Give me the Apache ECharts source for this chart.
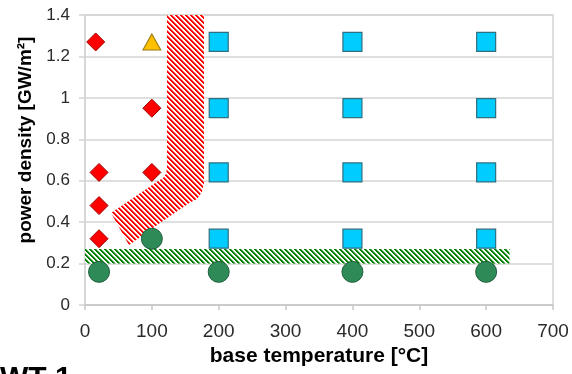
<!DOCTYPE html>
<html>
<head>
<meta charset="utf-8">
<script src="https://cdn.jsdelivr.net/npm/echarts@6/dist/echarts.min.js"></script>
<style>
html,body{margin:0;padding:0;background:#fff;}
#chart{width:572px;height:374px;}
</style>
</head>
<body>
<div id="chart"></div>
<script>
// ---- data ----
const xMin = 0, xMax = 700, xStep = 100;
const yMin = 0, yMax = 1.4, yStep = 0.2;

const diamondX = [16, 21, 21, 21, 100, 100];
const diamondY = [1.27, 0.64, 0.48, 0.32, 0.95, 0.64];

const squareX = [200, 200, 200, 200, 400, 400, 400, 400, 600, 600, 600, 600];
const squareY = [1.27, 0.95, 0.64, 0.32, 1.27, 0.95, 0.64, 0.32, 1.27, 0.95, 0.64, 0.32];

const triangleX = [100];
const triangleY = [1.27];

const circleX = [21, 100, 200, 400, 600];
const circleY = [0.16, 0.32, 0.16, 0.16, 0.16];

// green hatched band (data coordinates)
const greenBandX = [0, 635];
const greenBandY = [0.2, 0.27];

// red hatched region outline (data coordinates)
const redRegionX = [122.6, 178.0, 178.0, 175.0, 167.5, 157.1, 114.7, 65.8, 38.9, 109.2, 116.7, 121.2, 122.6];
const redRegionY = [1.4, 1.4, 0.589, 0.546, 0.512, 0.495, 0.402, 0.290, 0.444, 0.599, 0.613, 0.632, 0.661];

const xName = 'base temperature [°C]';
const yName = 'power density [GW/m²]';
const footText = 'WT-1';

// ---- hatch patterns ----
function makeHatch(rgb, size) {
  const c = document.createElement('canvas');
  c.width = size; c.height = size;
  const ctx = c.getContext('2d');
  const img = ctx.createImageData(size, size);
  for (let y = 0; y < size; y++) {
    for (let x = 0; x < size; x++) {
      const d = ((x - y) % size + size) % size;
      let a = d < 2 ? 1 : (d === 2 ? 0.55 : 0);
      const i = (y * size + x) * 4;
      img.data[i] = Math.round(rgb[0] * a + 255 * (1 - a));
      img.data[i + 1] = Math.round(rgb[1] * a + 255 * (1 - a));
      img.data[i + 2] = Math.round(rgb[2] * a + 255 * (1 - a));
      img.data[i + 3] = 255;
    }
  }
  ctx.putImageData(img, 0, 0);
  return c;
}
const redHatch = makeHatch([255, 0, 0], 5);
const greenHatch = makeHatch([0, 128, 0], 5);

const chart = echarts.init(document.getElementById('chart'), null, {renderer: 'canvas'});

const FONT = 'Liberation Sans, Arial, sans-serif';

function zip(xs, ys) { return xs.map((x, i) => [x, ys[i]]); }

chart.setOption({
  animation: false,
  backgroundColor: '#fff',
  grid: {left: 85, right: 19, top: 15, bottom: 69, show: true, borderColor: '#d4d4d4', borderWidth: 1.5},
  xAxis: {
    type: 'value', min: xMin, max: xMax, interval: xStep,
    name: xName, nameLocation: 'middle', nameGap: 40,
    nameTextStyle: {color: '#000', fontSize: 21, fontWeight: 'bold', fontFamily: FONT},
    axisLine: {show: true, lineStyle: {color: '#c8c8c8', width: 1.5}},
    axisTick: {show: true, length: 5, lineStyle: {color: '#c8c8c8', width: 1.5}},
    axisLabel: {margin: 17, color: '#2a2a2a', fontSize: 19, fontFamily: FONT},
    splitLine: {show: false}
  },
  yAxis: {
    type: 'value', min: yMin, max: yMax, interval: yStep,
    axisLine: {show: true, lineStyle: {color: '#d4d4d4', width: 1.5}},
    axisTick: {show: true, length: 6, lineStyle: {color: '#d4d4d4', width: 1.5}},
    axisLabel: {margin: 15, color: '#2a2a2a', fontSize: 17, fontFamily: FONT},
    splitLine: {show: true, lineStyle: {color: '#d4d4d4', width: 1.5}}
  },
  graphic: [
    {
      type: 'text', x: 26, y: 140, rotation: Math.PI / 2, silent: true,
      style: {text: yName, fontSize: 19, fontWeight: 'bold', fill: '#000', fontFamily: FONT, align: 'center', verticalAlign: 'middle'}
    },
    {
      type: 'text', left: 0, top: 364, silent: true,
      style: {text: footText, fontSize: 30, fontWeight: 'bold', fill: '#000', fontFamily: FONT}
    }
  ],
  series: [
    {
      type: 'custom', z: 1, silent: true,
      data: [0],
      renderItem: function (params, api) {
        const p0 = api.coord([greenBandX[0], greenBandY[1]]);
        const p1 = api.coord([greenBandX[1], greenBandY[0]]);
        return {
          type: 'rect',
          shape: {x: p0[0], y: p0[1], width: p1[0] - p0[0], height: p1[1] - p0[1]},
          style: {fill: {image: greenHatch, repeat: 'repeat'}}
        };
      }
    },
    {
      type: 'custom', z: 1, silent: true,
      data: [0],
      renderItem: function (params, api) {
        const pts = redRegionX.map((x, i) => api.coord([x, redRegionY[i]]));
        return {
          type: 'polygon',
          shape: {points: pts},
          style: {fill: {image: redHatch, repeat: 'repeat'}}
        };
      }
    },
    {
      type: 'scatter', z: 3, symbol: 'circle', symbolSize: 21,
      itemStyle: {color: '#2e8b57', borderColor: '#1e5e3b', borderWidth: 1, opacity: 1},
      data: zip(circleX, circleY)
    },
    {
      type: 'scatter', z: 3, symbol: 'rect', symbolSize: 19,
      itemStyle: {color: '#00ccff', borderColor: '#2f6f7f', borderWidth: 1.2, opacity: 1},
      data: zip(squareX, squareY)
    },
    {
      type: 'scatter', z: 3, symbol: 'diamond', symbolSize: 18,
      itemStyle: {color: '#ff0000', borderColor: '#a00000', borderWidth: 1, opacity: 1},
      data: zip(diamondX, diamondY)
    },
    {
      type: 'scatter', z: 3, symbol: 'triangle', symbolSize: [18, 16],
      itemStyle: {color: '#ffc000', borderColor: '#9a7a10', borderWidth: 1, opacity: 1},
      data: zip(triangleX, triangleY)
    }
  ]
});
</script>
</body>
</html>
